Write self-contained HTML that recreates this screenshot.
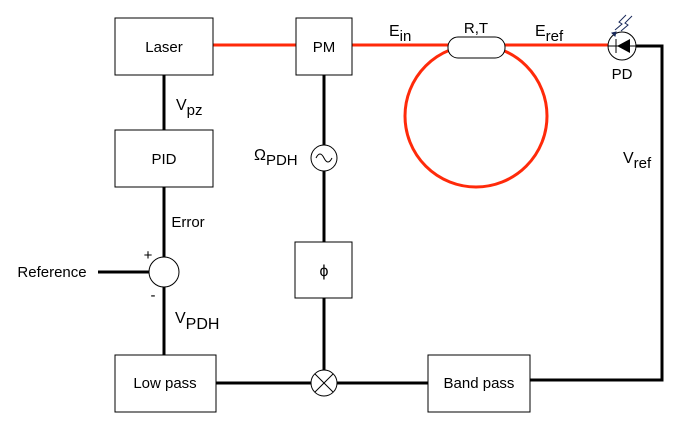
<!DOCTYPE html>
<html><head><meta charset="utf-8"><style>
html,body{margin:0;padding:0;background:#fff;width:678px;height:422px;overflow:hidden}
svg{display:block;font-family:"Liberation Sans",Arial,sans-serif}
</style></head><body>
<svg width="678" height="422" viewBox="0 0 678 422">
<g fill="none" stroke="#000" stroke-width="3">
<line x1="164" y1="75" x2="164" y2="130"/>
<line x1="164" y1="187" x2="164" y2="257"/>
<line x1="164" y1="287" x2="164" y2="355"/>
<line x1="98" y1="272" x2="149" y2="272"/>
<line x1="324" y1="75" x2="324" y2="145"/>
<line x1="324" y1="171" x2="324" y2="242"/>
<line x1="324" y1="298" x2="324" y2="370"/>
<line x1="216" y1="383" x2="311" y2="383"/>
<line x1="337" y1="383" x2="428" y2="383"/>
<polyline points="636,46 662,46 662,380 530,380"/>
</g>
<g fill="none" stroke="#ff2a0a" stroke-width="3">
<line x1="213" y1="45" x2="296" y2="45"/>
<line x1="352" y1="45" x2="449" y2="45"/>
<line x1="504" y1="45" x2="608" y2="45"/>
<circle cx="476" cy="116" r="71"/>
</g>
<g fill="#fff" stroke="#000" stroke-width="1">
<rect x="115" y="18" width="98" height="57"/>
<rect x="115" y="130" width="98" height="57"/>
<rect x="115" y="355" width="101" height="57"/>
<rect x="296" y="18" width="56" height="57"/>
<rect x="295" y="242" width="57" height="56"/>
<rect x="428" y="355" width="102" height="57"/>
<rect x="448" y="37" width="57" height="21" rx="10"/>
<circle cx="164" cy="272" r="15"/>
<circle cx="324" cy="158" r="13"/>
<circle cx="324" cy="383" r="13"/>
<circle cx="622" cy="46" r="14"/>
</g>
<g stroke="#000" stroke-width="1" fill="none">
<path d="M316 158 q4 -8 8 0 q4 8 8 0"/>
<line x1="315" y1="374" x2="333" y2="392"/><line x1="333" y1="374" x2="315" y2="392"/>
<line x1="608" y1="46" x2="636" y2="46"/>
<line x1="616" y1="39" x2="616" y2="53"/>
</g>
<polygon points="617,46 630,39 630,53" fill="#000"/>
<g stroke="#1a2a5a" stroke-width="1" fill="none">
<path d="M615 30 l7 -6 l-3 -2 l7 -7"/><path d="M621 31 l7 -6 l-3 -2 l7 -7"/>
<path d="M612 33 l4 -1 l-1 4 z" fill="#1a2a5a"/>
</g>
<g font-size="15" fill="#000" text-anchor="middle">
<text x="164" y="52">Laser</text>
<text x="164" y="164">PID</text>
<text x="165" y="388">Low pass</text>
<text x="324" y="52">PM</text>
<text x="324" y="276" font-size="16">ϕ</text>
<text x="479" y="388">Band pass</text>
<text x="476" y="33">R,T</text>
<text x="622" y="79">PD</text>
<text x="52" y="277">Reference</text>
<text x="188" y="227">Error</text>
<text x="148" y="260">+</text>
<text x="153" y="300">-</text>
</g>
<g font-size="16" fill="#000">
<text x="176" y="110">V<tspan dy="5" font-size="15">pz</tspan></text>
<text x="175" y="323">V<tspan dy="6" font-size="16">PDH</tspan></text>
<text x="254" y="160">Ω<tspan dy="5" font-size="15">PDH</tspan></text>
<text x="389" y="36">E<tspan dy="5" font-size="15">in</tspan></text>
<text x="535" y="36">E<tspan dy="5" font-size="15">ref</tspan></text>
<text x="623" y="163">V<tspan dy="5" font-size="15">ref</tspan></text>
</g>
</svg>
</body></html>
